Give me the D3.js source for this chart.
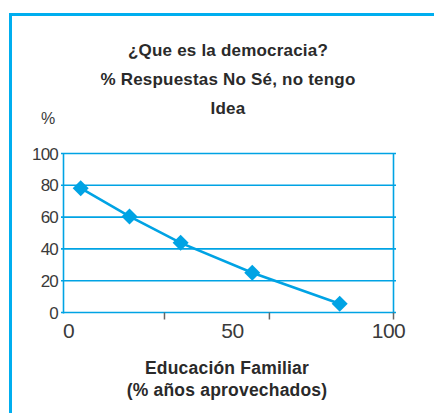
<!DOCTYPE html>
<html><head><meta charset="utf-8">
<script src="https://cdn.jsdelivr.net/npm/d3@7"></script>
<style>body{margin:0;background:#fff;} svg{display:block;}</style>
</head><body>
<script>
const xValues = [5.2, 20, 35.5, 57.2, 83.7];
const yValues = [78.2, 60.4, 43.8, 25, 5.5];
const yTicks = [0, 20, 40, 60, 80, 100];
const xTickLabels = [0, 50, 100];
const xTickMarks = [30.6, 62.4, 100];
const titleLines = ["¿Que es la democracia?", "% Respuestas No Sé, no tengo", "Idea"];
const xTitleLines = ["Educación Familiar", "(% años aprovechados)"];

const W = 434, H = 413;
const blue = "#00A3E4";
const svg = d3.select("body").append("svg").attr("width", W).attr("height", H);
const font = "'Liberation Sans', Arial, sans-serif";

// frame
svg.append("path").attr("d", `M10.5,${H} V14.5 H${W}`).attr("fill","none")
  .attr("stroke","#00AEEF").attr("stroke-width",3);

const x = d3.scaleLinear().domain([0,100]).range([63.5, 393.5]);
const y = d3.scaleLinear().domain([0,100]).range([312.5, 153.5]);

// gridlines
svg.append("g").selectAll("line").data(yTicks).join("line")
  .attr("x1", 61).attr("x2", 396).attr("y1", d=>y(d)).attr("y2", d=>y(d))
  .attr("stroke", blue).attr("stroke-width", 1.6);
// y axis + right border
svg.append("line").attr("x1", x(0)).attr("x2", x(0)).attr("y1", y(100)).attr("y2", y(0)+1)
  .attr("stroke", blue).attr("stroke-width", 1.6);
svg.append("line").attr("x1", x(100)).attr("x2", x(100)).attr("y1", y(100)).attr("y2", y(0)+1)
  .attr("stroke", blue).attr("stroke-width", 1.6);
// x tick marks
svg.append("g").selectAll("line").data(xTickMarks).join("line")
  .attr("x1", d=>x(d)).attr("x2", d=>x(d)).attr("y1", y(0)).attr("y2", y(0)+7)
  .attr("stroke", "#666").attr("stroke-width", 1.5);

// y tick labels
svg.append("g").selectAll("text").data(yTicks).join("text")
  .attr("x", 58).attr("y", d=>y(d)).attr("dy","0.36em").attr("text-anchor","end")
  .attr("font-family", font).attr("font-size", 17).attr("fill","#3a3a3a").attr("letter-spacing", -0.8)
  .text(d=>d);
// x tick labels
svg.append("g").selectAll("text").data(xTickLabels).join("text")
  .attr("x", d=>x(d) + (d===0?5:(d===50?4:-5))).attr("y", 338).attr("text-anchor","middle")
  .attr("font-family", font).attr("font-size", 21).attr("fill","#3a3a3a").attr("letter-spacing", -0.5)
  .text(d=>d);

// line + markers
const pts = xValues.map((v,i)=>[v, yValues[i]]);
svg.append("path").datum(pts)
  .attr("d", d3.line().x(d=>x(d[0])).y(d=>y(d[1])))
  .attr("fill","none").attr("stroke", blue).attr("stroke-width", 2.6);
svg.append("g").selectAll("path").data(pts).join("path")
  .attr("transform", d=>`translate(${x(d[0])},${y(d[1])})`)
  .attr("d", "M0,-8 L8,0 L0,8 L-8,0 Z").attr("fill", blue);

// title
svg.append("g").selectAll("text").data(titleLines).join("text")
  .attr("x", 228).attr("y", (d,i)=>56 + i*29).attr("text-anchor","middle")
  .attr("font-family", font).attr("font-size", 17).attr("font-weight","bold").attr("fill","#2a2a2a")
  .attr("letter-spacing", 0.2)
  .text(d=>d);
// "%" label
svg.append("text").attr("x", 48).attr("y", 124).attr("text-anchor","middle")
  .attr("font-family", font).attr("font-size", 16).attr("fill","#3a3a3a").text("%");
// x title
svg.append("g").selectAll("text").data(xTitleLines).join("text")
  .attr("x", 227).attr("y", (d,i)=>374 + i*22).attr("text-anchor","middle")
  .attr("font-family", font).attr("font-size", 17.5).attr("font-weight","bold").attr("fill","#2a2a2a")
  .attr("letter-spacing", 0.2)
  .text(d=>d);
</script>
</body></html>
